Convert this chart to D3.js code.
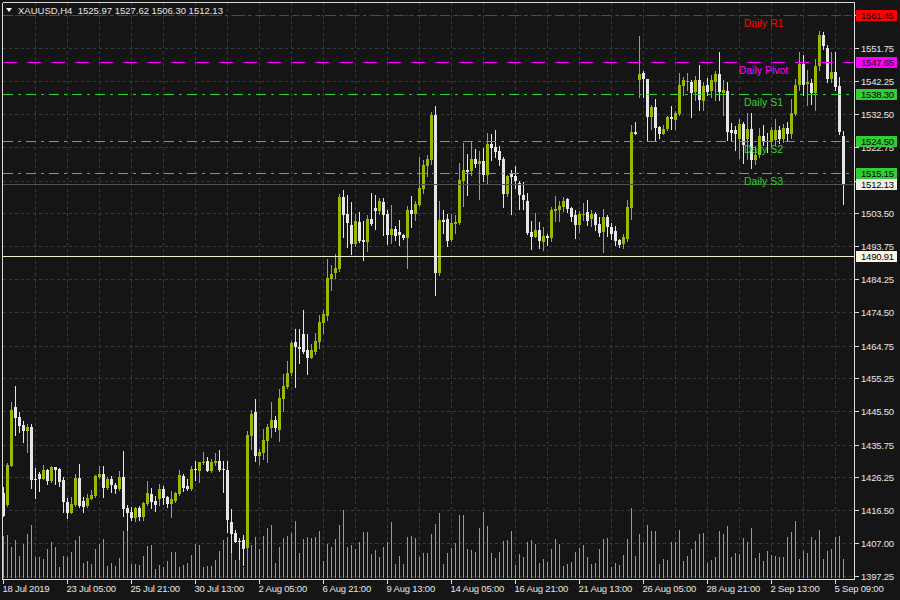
<!DOCTYPE html>
<html><head><meta charset="utf-8">
<script src="https://cdn.jsdelivr.net/npm/d3@7"></script>
<style>
html,body{margin:0;padding:0;background:#151515;}
svg{display:block;}
text{font-family:"Liberation Sans",Arial,sans-serif;}
</style></head>
<body>
<svg id="chart" width="900" height="600"></svg>
<script>
// ---------------- DATA ----------------
const symbolTitle = "XAUUSD,H4";
const lastBar = [1525.97, 1527.62, 1506.30, 1512.13];
const open = [1421.5,1418.2,1429.6,1446.9,1443.7,1441.35,1439.6,1440.8,1425.6,1427.3,
1425.8,1428.3,1425.0,1429.1,1428.5,1425.3,1419.1,1415.6,1418.2,1426.1,
1419.4,1417.7,1419.7,1420.6,1426.4,1427.3,1423.2,1425.8,1423.8,1422.9,
1426.4,1417.1,1415.9,1414.2,1417.1,1414.7,1418.5,1421.2,1419.4,1419.7,
1422.9,1420.3,1418.5,1419.4,1421.2,1426.7,1423.5,1422.9,1428.5,1427.9,
1430.5,1431.1,1427.9,1430.5,1431.1,1428.5,1428.2,1413.0,1409.8,1407.6,
1407.7,1405.6,1438.4,1445.4,1432.3,1433.4,1436.9,1440.5,1443.1,1439.9,
1449.0,1452.75,1456.6,1465.9,1464.45,1468.0,1463.3,1461.2,1463.0,1465.9,
1471.45,1473.5,1484.35,1485.9,1487.0,1508.35,1503.1,1500.1,1494.55,1501.0,
1495.7,1495.1,1501.9,1505.1,1504.2,1506.85,1503.3,1497.2,1498.95,1498.1,
1497.2,1496.3,1504.5,1503.3,1505.95,1510.65,1517.4,1519.1,1532.3,1486.05,
1501.6,1501.9,1495.7,1500.4,1500.7,1513.0,1516.2,1515.9,1519.4,1518.0,
1518.6,1514.75,1523.8,1522.9,1521.7,1519.4,1509.2,1515.3,1514.5,1512.4,
1508.9,1507.15,1498.1,1496.6,1498.65,1495.1,1496.9,1496.3,1504.2,1504.5,
1505.4,1507.7,1505.1,1502.8,1500.1,1503.0,1503.9,1501.9,1503.3,1500.4,
1498.1,1502.5,1499.3,1498.4,1495.7,1494.55,1496.0,1505.1,1527.35,1542.55,
1544.6,1542.8,1531.7,1534.6,1528.8,1526.7,1528.2,1531.7,1530.8,1532.6,
1540.8,1542.0,1542.0,1538.8,1542.3,1536.4,1541.1,1539.1,1542.0,1544.3,
1538.5,1539.35,1527.7,1527.7,1525.3,1529.7,1525.3,1528.25,1518.9,1520.6,
1526.2,1524.7,1524.2,1525.0,1527.7,1525.3,1528.5,1526.5,1532.6,1541.1,
1547.0,1541.4,1541.7,1538.5,1546.4,1555.75,1551.9,1542.6,1544.9,1540.8,
1525.97];
const high = [1423.4,1430.4,1448.2,1453.0,1445.4,1442.6,1441.8,1441.9,1428.9,1427.7,
1429.9,1428.5,1429.4,1429.1,1428.8,1426.4,1420.0,1420.3,1427.3,1430.2,
1420.3,1421.2,1422.6,1427.0,1429.6,1429.6,1426.4,1426.5,1424.4,1427.9,
1434.0,1418.2,1417.6,1417.4,1417.9,1419.1,1425.0,1423.2,1420.8,1424.1,
1423.5,1420.6,1422.3,1422.0,1428.2,1427.3,1425.6,1429.4,1431.1,1430.8,
1433.5,1432.0,1431.4,1433.2,1434.3,1431.1,1431.1,1416.8,1410.9,1408.3,
1409.2,1439.6,1446.0,1449.0,1434.6,1440.2,1441.9,1448.1,1444.0,1451.9,
1456.3,1460.1,1466.2,1469.7,1469.7,1475.0,1468.0,1465.3,1468.3,1473.8,
1475.0,1490.2,1488.2,1491.4,1509.2,1510.3,1508.9,1506.8,1503.1,1503.9,
1501.3,1502.8,1509.5,1508.9,1508.0,1507.9,1504.5,1505.95,1499.8,1501.6,
1497.5,1505.7,1508.6,1507.15,1520.0,1518.9,1520.6,1533.2,1534.9,1507.15,
1504.5,1503.3,1503.1,1502.8,1518.3,1524.1,1520.9,1524.7,1522.3,1521.7,
1522.6,1527.05,1526.5,1527.9,1523.2,1520.0,1514.75,1516.2,1517.4,1513.0,
1512.7,1509.5,1501.3,1503.6,1501.0,1499.55,1497.5,1505.4,1508.6,1507.15,
1508.35,1508.0,1505.4,1504.5,1504.2,1506.5,1507.4,1504.5,1503.9,1502.5,
1504.8,1502.8,1500.7,1499.8,1496.0,1497.5,1507.4,1529.4,1530.3,1555.2,
1545.2,1542.8,1535.2,1537.0,1529.1,1529.4,1532.0,1534.9,1533.5,1544.6,
1543.4,1544.6,1542.55,1543.7,1546.9,1542.0,1543.1,1544.0,1545.2,1550.5,
1542.55,1542.0,1530.0,1529.1,1530.9,1530.3,1532.9,1532.9,1523.0,1528.5,
1529.4,1526.8,1528.8,1530.9,1529.1,1529.7,1530.3,1537.0,1542.6,1550.5,
1549.9,1545.5,1542.6,1548.7,1556.9,1556.6,1552.8,1550.5,1550.5,1543.2,
1527.62];
const low = [1414.8,1417.9,1429.6,1438.5,1439.5,1436.5,1433.6,1423.0,1420.0,1422.1,
1425.6,1424.1,1424.7,1424.1,1423.5,1416.0,1414.2,1415.6,1417.9,1417.6,
1415.9,1417.4,1419.7,1420.3,1426.1,1420.3,1422.9,1422.0,1421.6,1422.6,
1415.0,1410.9,1413.8,1413.3,1413.8,1413.8,1418.2,1417.1,1416.2,1418.2,
1418.5,1417.4,1414.7,1419.1,1420.9,1422.3,1422.6,1422.6,1425.3,1424.7,
1430.2,1427.9,1427.6,1429.9,1427.9,1422.0,1410.3,1404.2,1407.4,1402.2,
1400.4,1405.3,1434.6,1431.1,1430.2,1431.4,1430.8,1438.1,1439.6,1436.7,
1445.7,1452.2,1456.0,1452.75,1459.5,1462.7,1456.3,1461.2,1462.4,1464.1,
1468.3,1472.35,1481.1,1484.6,1486.7,1496.6,1493.7,1491.6,1494.0,1495.1,
1489.9,1492.5,1500.1,1498.95,1503.3,1497.2,1494.55,1494.85,1495.7,1494.3,
1496.0,1487.3,1499.55,1501.6,1505.7,1509.5,1514.5,1518.0,1479.5,1485.5,
1497.8,1494.0,1495.4,1497.8,1500.4,1505.7,1508.9,1514.75,1517.1,1507.7,
1513.0,1512.1,1519.1,1519.95,1517.7,1505.4,1508.6,1503.3,1510.9,1504.8,
1504.8,1497.5,1493.1,1496.6,1493.4,1492.8,1494.3,1495.4,1501.3,1501.3,
1504.2,1503.9,1501.3,1496.3,1498.1,1501.6,1500.1,1499.8,1498.65,1496.9,
1492.2,1496.9,1496.0,1494.3,1493.7,1493.4,1495.4,1501.9,1526.5,1537.6,
1537.6,1524.7,1528.2,1525.0,1525.6,1526.5,1527.9,1528.2,1528.2,1532.3,
1538.1,1539.6,1531.7,1536.7,1533.8,1533.8,1538.1,1537.6,1536.7,1536.7,
1532.3,1525.0,1525.0,1522.1,1519.5,1518.3,1519.2,1516.8,1518.0,1519.8,
1523.3,1521.5,1523.0,1523.3,1523.9,1524.4,1525.0,1525.6,1532.3,1539.6,
1538.2,1535.0,1535.3,1533.8,1545.5,1551.4,1542.0,1542.0,1539.65,1526.5,
1506.30];
const close = [1414.8,1429.9,1445.8,1443.4,1441.2,1439.6,1441.0,1425.3,1425.5,1425.8,
1428.2,1425.0,1429.1,1428.2,1424.7,1419.1,1415.6,1418.5,1426.1,1417.9,
1417.4,1420.0,1420.9,1426.7,1427.3,1423.2,1425.6,1423.8,1422.9,1426.4,
1416.8,1415.6,1414.2,1417.1,1414.7,1418.8,1421.5,1419.1,1418.2,1422.9,
1420.0,1418.5,1419.7,1421.5,1427.0,1423.2,1422.9,1428.5,1428.2,1430.8,
1430.8,1427.9,1430.8,1431.1,1428.2,1428.2,1413.6,1409.5,1407.4,1407.5,
1405.1,1438.7,1444.85,1432.3,1433.7,1437.2,1440.8,1443.1,1440.5,1449.25,
1453.05,1456.85,1465.6,1464.45,1463.6,1463.0,1461.2,1463.3,1466.2,1471.75,
1474.1,1484.6,1485.8,1487.3,1508.35,1502.8,1500.7,1494.55,1501.3,1495.4,
1495.1,1501.9,1500.4,1504.2,1507.15,1503.05,1497.2,1498.95,1496.9,1497.2,
1496.3,1504.5,1503.3,1506.3,1510.9,1517.65,1519.4,1532.3,1486.05,1501.6,
1501.0,1495.4,1500.7,1501.0,1513.3,1516.2,1515.6,1519.4,1518.0,1518.6,
1514.75,1523.8,1522.6,1521.4,1519.1,1509.2,1514.5,1514.2,1513.0,1508.9,
1507.4,1497.8,1496.6,1498.65,1495.4,1496.9,1496.3,1504.5,1504.8,1505.7,
1507.15,1504.8,1502.5,1500.1,1503.3,1503.3,1501.3,1503.3,1500.1,1497.8,
1502.5,1499.3,1497.5,1495.4,1494.3,1496.6,1505.4,1527.35,1526.5,1544.3,
1542.8,1531.7,1534.6,1528.5,1526.7,1528.2,1531.7,1531.1,1532.9,1541.1,
1542.55,1542.2,1538.5,1542.3,1536.7,1540.8,1538.8,1542.3,1544.3,1538.8,
1539.6,1527.1,1526.8,1526.5,1529.7,1523.3,1528.25,1518.9,1520.6,1526.2,
1524.7,1524.2,1527.7,1527.7,1525.3,1528.5,1526.5,1532.9,1541.1,1547.0,
1541.1,1542.0,1538.5,1546.4,1555.75,1552.5,1542.6,1544.9,1540.5,1527.1,
1512.13];
const volume = [127,130,94,115,67,101,133,160,64,64,58,88,109,94,34,67,64,79,115,127,
46,52,43,88,103,118,37,46,37,61,142,142,43,43,40,67,97,100,28,40,
34,52,79,79,34,40,46,70,103,100,34,37,37,55,82,115,124,132,55,58,
34,124,100,124,88,127,151,160,46,94,121,127,136,172,76,118,124,121,124,142,
52,103,94,118,160,205,94,100,88,109,139,139,73,85,64,94,109,169,43,67,
43,124,127,121,64,76,76,133,163,196,43,76,91,106,190,190,88,85,79,151,
199,157,76,61,79,112,115,142,40,73,64,109,115,103,46,58,49,88,118,103,
37,43,49,79,91,100,64,43,46,88,118,121,34,46,40,70,118,211,67,133,
109,160,142,142,43,58,55,109,109,145,52,67,88,112,133,136,46,55,64,142,
133,157,64,76,73,121,109,151,61,76,52,82,70,67,64,64,124,139,172,58,
82,76,124,115,145,58,82,88,124,127,58];
const timeLabelBars = [0,16,32,48,64,80,96,112,128,144,160,176,192,208];
const timeLabels = ["18 Jul 2019","23 Jul 05:00","25 Jul 21:00","30 Jul 13:00","2 Aug 05:00","6 Aug 21:00","9 Aug 13:00","14 Aug 05:00","16 Aug 21:00","21 Aug 13:00","26 Aug 05:00","28 Aug 21:00","2 Sep 13:00","5 Sep 09:00"];
const priceTicks = [1561.50,1551.75,1542.25,1532.50,1522.75,1513.00,1503.50,1493.75,1484.25,1474.50,1464.75,1455.25,1445.50,1435.75,1426.25,1416.50,1407.00,1397.25];
const hiddenTickLabels = [1561.50,1513.00]; // fully covered by price boxes in the reference
const levelNames = ["Daily R1","Daily Pivot","Daily S1","Daily S2","Daily S3"];
const levelValues = [1561.45,1547.65,1538.30,1524.50,1515.15];
const bidPrice = 1512.13;
const userLine = 1490.91;

// ---------------- STYLE ----------------
const BG="#151515", GRID="#3a3a3a", FRAME="#dcdcdc", TXT="#e6e6e6";
const BULL="#9ab800", BEAR="#e6e6e6";
const levelColors=["#ff0000","#ff00ff","#32cd32","#32cd32","#32cd32"];
const levelDash=["10,5,3,5","14,10","10,5,3,5","10,5,3,5","10,5,3,5"];

const svg=d3.select("#chart");
svg.append("rect").attr("width",900).attr("height",600).attr("fill",BG);

const n=open.length;
const x=d3.scaleLinear().domain([0,n-1]).range([3.5,3.5+4*(n-1)]);
const y=d3.scaleLinear().domain([1397.25,1551.75]).range([576.2,48.2]);
const vy=d3.scaleLinear().domain([0,231]).range([578,501]);
const L=2.5,R=854.5,T=2.5,B=579.5;
const ry=v=>Math.round(y(v));

const g=svg.append("g").attr("shape-rendering","crispEdges");
// grid
g.selectAll("line.hg").data(priceTicks).join("line").attr("class","hg")
 .attr("x1",L).attr("x2",R).attr("y1",d=>ry(d)+0.5).attr("y2",d=>ry(d)+0.5)
 .attr("stroke",GRID).attr("stroke-dasharray","3,3");
const vgrid=d3.range(1,27).map(k=>3+32*k);
g.selectAll("line.vg").data(vgrid).join("line").attr("class","vg")
 .attr("x1",d=>d+0.5).attr("x2",d=>d+0.5).attr("y1",T).attr("y2",B)
 .attr("stroke",GRID).attr("stroke-dasharray","3,3");

// volumes
g.selectAll("line.vol").data(volume).join("line").attr("class","vol")
 .attr("x1",(d,i)=>x(i)).attr("x2",(d,i)=>x(i))
 .attr("y1",578).attr("y2",d=>Math.round(vy(d)))
 .attr("stroke",BULL);

// candles
const idx=d3.range(n);
g.selectAll("line.wick").data(idx).join("line").attr("class","wick")
 .attr("x1",i=>x(i)).attr("x2",i=>x(i))
 .attr("y1",i=>ry(high[i])).attr("y2",i=>ry(low[i])+1)
 .attr("stroke",i=>close[i]>=open[i]?BULL:BEAR);
g.selectAll("rect.body").data(idx).join("rect").attr("class","body")
 .attr("x",i=>x(i)-1.5).attr("width",3)
 .attr("y",i=>ry(Math.max(open[i],close[i])))
 .attr("height",i=>Math.max(1,ry(Math.min(open[i],close[i]))-ry(Math.max(open[i],close[i]))))
 .attr("fill",i=>close[i]>=open[i]?BULL:BEAR);

// bid line & user line
g.append("line").attr("x1",L).attr("x2",R).attr("y1",ry(bidPrice)+0.5).attr("y2",ry(bidPrice)+0.5).attr("stroke","#505050");
g.append("line").attr("x1",L).attr("x2",R).attr("y1",ry(userLine)+0.5).attr("y2",ry(userLine)+0.5).attr("stroke","#f3ead2");

// pivot levels
g.selectAll("line.lvl").data(levelValues).join("line").attr("class","lvl")
 .attr("x1",L).attr("x2",R).attr("y1",d=>ry(d)+0.5).attr("y2",d=>ry(d)+0.5)
 .attr("stroke",(d,i)=>levelColors[i]).attr("stroke-dasharray",(d,i)=>levelDash[i]);
svg.selectAll("text.lvlt").data(levelValues).join("text").attr("class","lvlt")
 .attr("x",763.5).attr("y",d=>y(d)+11.8).attr("text-anchor","middle")
 .attr("font-size","10.5px").attr("fill",(d,i)=>levelColors[i]).text((d,i)=>levelNames[i]);

// frame
g.append("line").attr("x1",L).attr("x2",L).attr("y1",T).attr("y2",B).attr("stroke",FRAME);
g.append("line").attr("x1",L).attr("x2",R).attr("y1",T).attr("y2",T).attr("stroke",FRAME);
g.append("line").attr("x1",R).attr("x2",R).attr("y1",T).attr("y2",B).attr("stroke",FRAME);
g.append("line").attr("x1",L).attr("x2",R).attr("y1",B).attr("y2",B).attr("stroke",FRAME);

// price axis
g.selectAll("line.ptk").data(priceTicks).join("line").attr("class","ptk")
 .attr("x1",R).attr("x2",R+4).attr("y1",d=>ry(d)+0.5).attr("y2",d=>ry(d)+0.5).attr("stroke",FRAME);
svg.selectAll("text.ptl").data(priceTicks.filter(d=>!hiddenTickLabels.includes(d))).join("text").attr("class","ptl")
 .attr("x",861).attr("y",d=>y(d)+4).attr("font-size","9.5px").attr("letter-spacing","-0.2px")
 .attr("fill",TXT).text(d=>d.toFixed(2));

// time axis
g.selectAll("line.ttk").data(timeLabelBars).join("line").attr("class","ttk")
 .attr("x1",d=>x(d)).attr("x2",d=>x(d)).attr("y1",B).attr("y2",B+4).attr("stroke",FRAME);
svg.selectAll("text.ttl").data(timeLabelBars).join("text").attr("class","ttl")
 .attr("x",d=>x(d)-1).attr("y",592).attr("font-size","9.5px").attr("letter-spacing","-0.2px")
 .attr("fill",TXT).text((d,i)=>timeLabels[i]);

// price boxes
const boxes=[
 {v:levelValues[0],fill:"#ff0000"},
 {v:levelValues[1],fill:"#ff00ff"},
 {v:levelValues[2],fill:"#32cd32"},
 {v:levelValues[3],fill:"#32cd32"},
 {v:levelValues[4],fill:"#32cd32"},
 {v:bidPrice,fill:"#f4f0e6"},
 {v:userLine,fill:"#fdf6e3"}];
const bg=svg.append("g");
bg.selectAll("rect").data(boxes).join("rect")
 .attr("x",856).attr("width",41).attr("y",d=>ry(d.v)-5).attr("height",11)
 .attr("fill",d=>d.fill).attr("shape-rendering","crispEdges");
bg.selectAll("text").data(boxes).join("text")
 .attr("x",861).attr("y",d=>y(d.v)+4).attr("font-size","9.5px").attr("letter-spacing","-0.2px")
 .attr("fill","#000").text(d=>d.v.toFixed(2));

// header
svg.append("path").attr("d","M6,8 L12,8 L9,12 Z").attr("fill","#ffffff");
svg.append("text").attr("x",18).attr("y",14).attr("font-size","9.5px").attr("fill",TXT)
 .style("white-space","pre")
 .text(symbolTitle+"  "+lastBar.map(v=>v.toFixed(2)).join(" "));
</script>
</body></html>
